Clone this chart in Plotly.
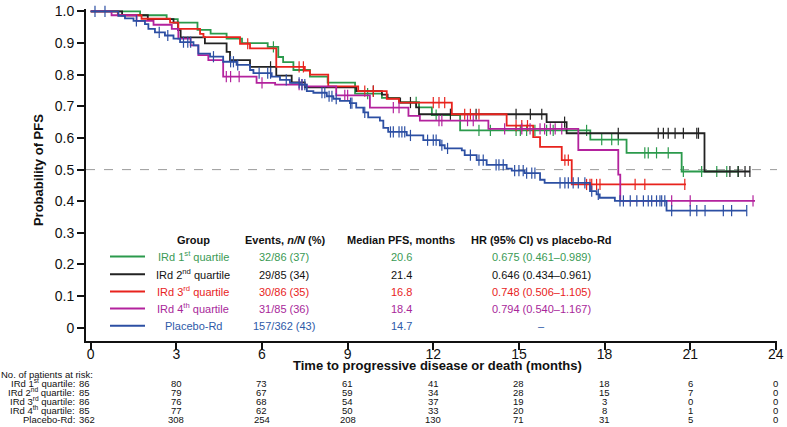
import numpy as np
import plotly.graph_objects as go

# ---------------- data ----------------
group_names = ["IRd 1<sup>st</sup> quartile", "IRd 2<sup>nd</sup> quartile", "IRd 3<sup>rd</sup> quartile",
               "IRd 4<sup>th</sup> quartile", "Placebo-Rd"]
events = ["32/86 (37)", "29/85 (34)", "30/86 (35)", "31/85 (36)", "157/362 (43)"]
medians = ["20.6", "21.4", "16.8", "18.4", "14.7"]
hrs = ["0.675 (0.461–0.989)", "0.646 (0.434–0.961)", "0.748 (0.506–1.105)", "0.794 (0.540–1.167)", "–"]

q1_t = [1.73, 2.66, 3.05, 3.74, 4.2, 4.76, 5.3, 6.2, 6.57, 6.74, 7.1, 7.68, 8.3, 9.26, 10.2, 10.8, 11.5, 11.95, 12.94, 17.5, 18.77, 20.7]
q1_s = [0.988, 0.976, 0.965, 0.942, 0.93, 0.914, 0.900, 0.888, 0.856, 0.840, 0.815, 0.794, 0.775, 0.740, 0.727, 0.713, 0.697, 0.672, 0.624, 0.595, 0.553, 0.494]
q1_c = [6.4, 9.7, 11.4, 12.1, 13.6, 14.0, 14.9, 15.05, 15.27, 15.56, 15.97, 16.2, 17.37, 17.9, 18.25, 18.48, 19.41, 19.53,
        19.82, 20.23, 20.76, 21.4, 21.93, 22.28, 22.68]
q1_end = 22.7

q2_t = [1.1, 2.0, 2.9, 3.06, 3.15, 4.0, 4.76, 4.88, 5.58, 6.5, 7.04, 7.5, 9.3, 10.2, 10.4, 10.84, 11.4, 11.5, 15.97, 16.67, 21.5]
q2_s = [0.988, 0.976, 0.965, 0.941, 0.918, 0.899, 0.872, 0.846, 0.825, 0.797, 0.776, 0.760, 0.748, 0.737, 0.725, 0.712, 0.697, 0.675, 0.650, 0.615, 0.494]
q2_c = [6.3, 9.9, 11.2, 12.6, 13.5, 14.9, 15.4, 15.8, 16.6, 18.48, 19.88, 20.06, 20.23, 20.47, 20.76, 21.23, 21.29,
        22.39, 22.68, 22.92, 23.09]
q2_end = 23.1

q3_t = [0.95, 1.78, 2.78, 3.07, 3.83, 3.95, 5.23, 5.58, 6.5, 7.5, 7.68, 8.32, 9.37, 10.37, 10.8, 12.65, 14.57, 15.5, 15.74, 16.5, 16.85]
q3_s = [0.988, 0.977, 0.965, 0.945, 0.929, 0.919, 0.898, 0.883, 0.825, 0.813, 0.800, 0.763, 0.748, 0.724, 0.712, 0.675, 0.639, 0.603, 0.572, 0.530, 0.453]
q3_c = [5.5, 7.3, 7.45, 9.6, 9.9, 12.0, 12.2, 12.4, 13.1, 13.3, 13.6, 14.9, 15.1, 15.3, 16.61, 16.73, 17.37, 17.49,
        17.55, 17.72, 17.84, 19.07, 19.41, 20.81]
q3_end = 20.85

q4_t = [0.73, 1.61, 2.2, 2.84, 3.07, 3.5, 3.77, 4.12, 4.64, 5.81, 6.46, 7.56, 8.6, 9.78, 11.13, 11.53, 13.93, 17.08, 18.48, 18.55]
q4_s = [0.988, 0.970, 0.958, 0.945, 0.914, 0.893, 0.862, 0.846, 0.794, 0.774, 0.769, 0.763, 0.735, 0.696, 0.670, 0.655, 0.629, 0.562, 0.484, 0.401]
q4_c = [4.75, 4.9, 5.2, 6.0, 7.3, 7.4, 8.9, 9.0, 10.6, 10.8, 12.2, 12.3, 13.2, 13.4, 14.5, 15.1, 15.39, 15.74, 15.9,
        16.1, 16.27, 16.5, 20.35, 21.0, 23.2]
q4_end = 23.27

pl_t = [0.97, 1.2, 1.5, 1.9, 2.02, 2.25, 2.6, 2.9, 3.13, 3.6, 3.77, 4.18, 4.64, 5.11, 5.58, 5.7, 6.34, 6.63, 6.98, 7.33,
        7.57, 7.8, 8.27, 8.5, 8.73, 9.08, 9.3, 9.55, 9.72, 10.13, 10.25, 10.42, 11.07, 11.65, 12.23, 12.4, 13.0, 13.1,
        13.52, 13.87, 14.57, 14.75, 15.2, 15.74, 15.9, 17.49, 17.72, 17.83, 18.36, 20.17]
pl_s = [0.986, 0.978, 0.970, 0.960, 0.945, 0.934, 0.924, 0.914, 0.903, 0.893, 0.867, 0.857, 0.841, 0.831, 0.815, 0.805,
        0.794, 0.784, 0.774, 0.769, 0.748, 0.743, 0.732, 0.724, 0.717, 0.710, 0.696, 0.681, 0.665, 0.655, 0.632, 0.619,
        0.608, 0.593, 0.577, 0.567, 0.561, 0.546, 0.530, 0.515, 0.503, 0.497, 0.489, 0.468, 0.458, 0.432, 0.422, 0.411,
        0.401, 0.370]
pl_c = [0.15, 0.5, 1.6, 2.4, 2.7, 3.25, 3.4, 3.5, 4.3, 4.9, 5.0, 5.15, 5.9, 6.2, 6.3, 6.85, 7.3, 7.4, 7.5, 8.1, 8.2,
        8.35, 8.45, 8.6, 9.1, 9.15, 9.6, 10.5, 10.6, 10.8, 10.9, 11.0, 11.2, 11.8, 12.0, 12.1, 12.3, 12.5, 13.3, 13.6,
        13.75, 14.2, 14.3, 14.45, 14.85, 15.0, 15.15, 15.27, 15.45, 15.56, 16.44, 16.61, 16.73, 16.9, 17.08, 17.31,
        17.55, 17.78, 18.54, 18.66, 18.9, 19.13, 19.36, 19.53, 19.65, 19.82, 19.94, 20.0, 20.11, 20.35, 21.0, 21.23,
        21.52, 22.16, 22.45, 22.98]
pl_end = 22.98

risk_times = [0, 3, 6, 9, 12, 15, 18, 21, 24]
risk_labels = ["IRd 1<sup>st</sup> quartile:", "IRd 2<sup>nd</sup> quartile:", "IRd 3<sup>rd</sup> quartile:",
               "IRd 4<sup>th</sup> quartile:", "Placebo-Rd:"]
risk_q1 = [86, 80, 73, 61, 41, 28, 18, 6, 0]
risk_q2 = [85, 79, 67, 59, 34, 28, 15, 7, 0]
risk_q3 = [86, 76, 68, 54, 37, 19, 3, 0, 0]
risk_q4 = [85, 77, 62, 50, 33, 20, 8, 1, 0]
risk_pl = [362, 308, 254, 208, 130, 71, 31, 5, 0]

x_ticks = [0, 3, 6, 9, 12, 15, 18, 21, 24]
y_ticks = [0, 0.1, 0.2, 0.3, 0.4, 0.5, 0.6, 0.7, 0.8, 0.9, 1.0]
y_ticktext = ["0", "0.1", "0.2", "0.3", "0.4", "0.5", "0.6", "0.7", "0.8", "0.9", "1.0"]

# ---------------- styling ----------------
line_colors = ["#2b9a4c", "#222222", "#e8231d", "#b3229d", "#2c4fa3"]
text_colors = ["#3a9a55", "#111111", "#e8231d", "#a8279a", "#2e5aa8"]
FONT = "Arial, 'Liberation Sans', sans-serif"

W, H = 787, 427
L, R, T, B = 86, 10, 3, 86
X0, X1 = -0.165, 24.04
Y0, Y1 = -0.0419, 1.0078
PW, PH = W - L - R, H - T - B


def px2p(px):
    return (px - L) / PW


def py2p(py):
    return (H - B - py) / PH


fig = go.Figure()

curves = [(q1_t, q1_s, q1_c, q1_end), (q2_t, q2_s, q2_c, q2_end), (q3_t, q3_s, q3_c, q3_end),
          (q4_t, q4_s, q4_c, q4_end), (pl_t, pl_s, pl_c, pl_end)]

for (t, s, c, end), col in zip(curves, line_colors):
    xs = [0] + list(t) + [end]
    ys = [1.0] + list(s) + [s[-1]]
    fig.add_trace(go.Scatter(x=xs, y=ys, mode="lines", line=dict(color=col, width=1.8, shape="hv"),
                             hoverinfo="skip", showlegend=False, cliponaxis=False))
    ta = np.array(t)
    sa = np.array([1.0] + list(s))
    idx = np.searchsorted(ta, np.array(c), side="right")
    fig.add_trace(go.Scatter(x=c, y=sa[idx], mode="markers",
                             marker=dict(symbol="line-ns", size=8, line=dict(width=1.2, color=col)),
                             hoverinfo="skip", showlegend=False, cliponaxis=False))

# dashed median line
fig.add_shape(type="line", xref="paper", x0=0, x1=1, yref="y", y0=0.5, y1=0.5,
              line=dict(color="#9a9a9a", width=1, dash="dash"), layer="below")

ann = []


def text_at(px, py_center, txt, size, color, xanchor="center"):
    # bottom-anchored so that rows with and without superscripts share a baseline
    box_half = size * 0.62 + 1
    ann.append(dict(xref="paper", yref="paper", x=px2p(px), y=py2p(py_center + box_half), text=txt,
                    showarrow=False, xanchor=xanchor, yanchor="bottom", borderpad=0,
                    font=dict(size=size, color=color, family=FONT)))


# legend table header
for txt, px in [("<b>Group</b>", 193), ("<b>Events, <i>n/N</i> (%)</b>", 285), ("<b>Median PFS, months</b>", 401),
                ("<b>HR (95% CI) vs placebo-Rd</b>", 541)]:
    text_at(px, 237.5, txt, 11, "#111111")
row_py = [255, 273, 290.5, 308, 325.5]
for i in range(5):
    yy = py2p(row_py[i])
    fig.add_shape(type="line", x0=px2p(110), x1=px2p(145), y0=yy, y1=yy, xref="paper", yref="paper",
                  line=dict(color=line_colors[i], width=2))
    for txt, px in [(group_names[i], 193), (events[i], 284), (medians[i], 401), (hrs[i], 541)]:
        text_at(px, row_py[i], txt, 11, text_colors[i])

# axis titles
text_at(438, 366, "<b>Time to progressive disease or death (months)</b>", 13, "#111111")
ann.append(dict(xref="paper", yref="paper", x=px2p(38), y=py2p(167),
                text="<b>Probability of PFS</b>", showarrow=False, textangle=-90,
                xanchor="center", yanchor="middle", font=dict(size=13, color="#111111", family=FONT)))

# risk table
RF = 9.5
text_at(0, 375, "No. of patients at risk:", RF, "#111111", xanchor="left")
risk_rows = [risk_q1, risk_q2, risk_q3, risk_q4, risk_pl]
risk_py = [384.5, 393.5, 402.5, 411.5, 420.5]
col_px = [78] + [L + (tm - X0) / (X1 - X0) * PW for tm in risk_times[1:]]
for i, row in enumerate(risk_rows):
    text_at(76, risk_py[i], risk_labels[i], RF, "#111111", xanchor="right")
    for j, v in enumerate(row):
        text_at(col_px[j], risk_py[i], str(v), RF, "#111111", xanchor="left" if j == 0 else "center")

fig.update_layout(
    width=W, height=H, autosize=False,
    margin=dict(l=L, r=R, t=T, b=B, pad=0),
    paper_bgcolor="white", plot_bgcolor="white",
    font=dict(family=FONT, color="#111111"),
    annotations=ann,
    xaxis=dict(range=[X0, X1], tickvals=x_ticks, ticks="outside", ticklen=7, tickwidth=1.5, tickcolor="#111111",
               showline=True, linecolor="#111111", linewidth=1.8, showgrid=False, zeroline=False,
               ticklabelstandoff=-8,
               ticklabeloverflow="allow", tickfont=dict(size=14, color="#111111", family=FONT)),
    yaxis=dict(range=[Y0, Y1], tickvals=y_ticks, ticktext=y_ticktext, ticks="outside", ticklen=7, tickwidth=1.5,
               tickcolor="#111111", showline=True, linecolor="#111111", linewidth=1.8, showgrid=False,
               zeroline=False, ticklabeloverflow="allow", tickfont=dict(size=14, color="#111111", family=FONT)),
)

fig.write_html("out.html", config={"displayModeBar": False})
with open("out.html", "r", encoding="utf-8") as f:
    html = f.read()
html = html.replace("<body>", "<body style=\"margin:0;padding:0;\">", 1)
with open("out.html", "w", encoding="utf-8") as f:
    f.write(html)
